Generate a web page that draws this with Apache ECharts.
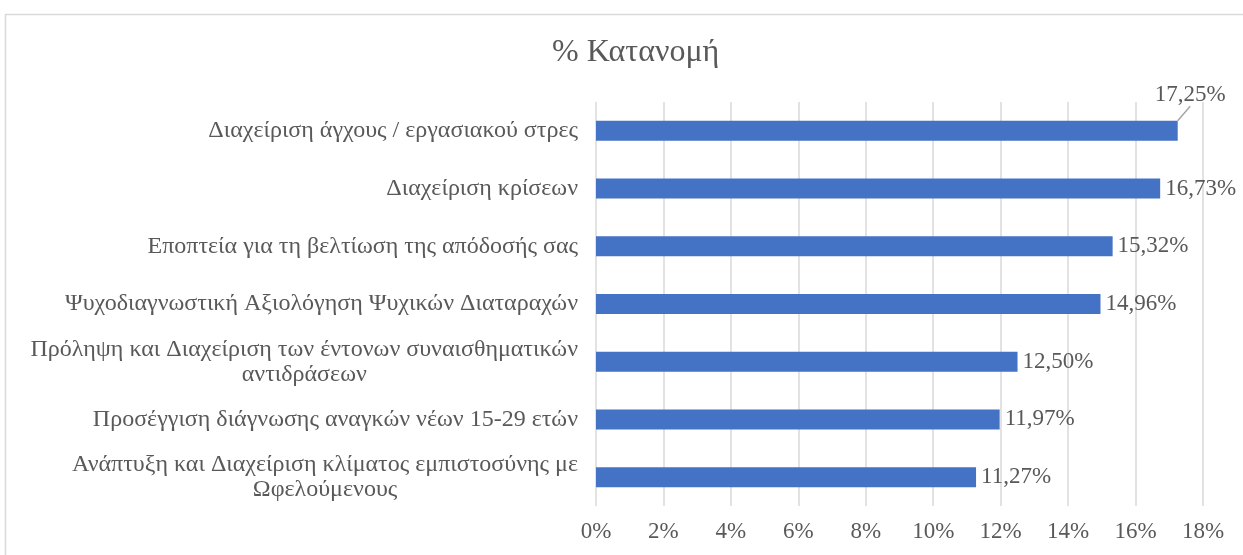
<!DOCTYPE html>
<html>
<head>
<meta charset="utf-8">
<script src="https://cdn.jsdelivr.net/npm/echarts@6/dist/echarts.min.js"></script>
<style>
  html, body { margin: 0; padding: 0; background: #fff; }
  #chart { width: 1243px; height: 555px; }
</style>
</head>
<body>
<div id="chart"></div>
<script>
  // κατηγορίες από πάνω προς τα κάτω
  const categories = [
    'Διαχείριση άγχους / εργασιακού στρες',
    'Διαχείριση κρίσεων',
    'Εποπτεία για τη βελτίωση της απόδοσής σας',
    'Ψυχοδιαγνωστική Αξιολόγηση Ψυχικών Διαταραχών',
    'Πρόληψη και Διαχείριση των έντονων συναισθηματικών\nαντιδράσεων',
    'Προσέγγιση διάγνωσης αναγκών νέων 15-29 ετών',
    'Ανάπτυξη και Διαχείριση κλίματος εμπιστοσύνης με\nΩφελούμενους'
  ]
  const values = [17.25, 16.73, 15.32, 14.96, 12.50, 11.97, 11.27]
  const xTicks = [0, 2, 4, 6, 8, 10, 12, 14, 16, 18]

  const font = '"Liberation Serif", "Times New Roman", serif'
  const textColor = '#595959'
  const fmt = v => v.toFixed(2).replace('.', ',') + '%'

  const chart = echarts.init(document.getElementById('chart'))
  chart.setOption({
    animation: false,
    textStyle: { fontFamily: font },
    title: {
      text: '% Κατανομή',
      left: 547,
      top: 32,
      textStyle: { fontFamily: font, fontSize: 32, fontWeight: 'normal', color: textColor }
    },
    graphic: [{
      type: 'rect',
      left: 3, top: 12,
      shape: { width: 1300, height: 600 },
      style: { fill: 'none', stroke: '#d9d9d9', lineWidth: 1.5 },
      silent: true
    }],
    grid: { left: 596, right: 40, top: 102, bottom: 49 },
    xAxis: {
      type: 'value',
      min: xTicks[0],
      max: xTicks[xTicks.length - 1],
      interval: 2,
      axisLine: { show: false },
      axisTick: { show: false },
      splitLine: { lineStyle: { color: '#d9d9d9', width: 1.5 } },
      axisLabel: {
        margin: 14,
        fontFamily: font, fontSize: 23, color: textColor,
        formatter: v => v + '%'
      }
    },
    yAxis: {
      type: 'category',
      inverse: true,
      data: categories,
      axisLine: { show: false },
      axisTick: { show: false },
      axisLabel: {
        margin: 18,
        formatter: v => v.split('\n').map(s => '{c|' + s + '}').join('\n'),
        rich: {
          c: { fontFamily: font, fontSize: 24, color: textColor, align: 'center', lineHeight: 25 }
        }
      }
    },
    series: [{
      type: 'bar',
      data: values.map((v, i) => ({ value: v, labelLine: { show: i === 0 } })),
      barWidth: 20,
      itemStyle: { color: '#4472C4' },
      label: {
        show: true,
        position: 'right',
        distance: 5,
        fontFamily: font, fontSize: 23, color: textColor,
        formatter: p => fmt(p.value)
      },
      labelLayout: p => p.dataIndex === 0 ? { dx: -28, dy: -36 } : {},
      labelLine: { show: false, lineStyle: { color: '#a6a6a6', width: 1.5 } }
    }]
  })
</script>
</body>
</html>
